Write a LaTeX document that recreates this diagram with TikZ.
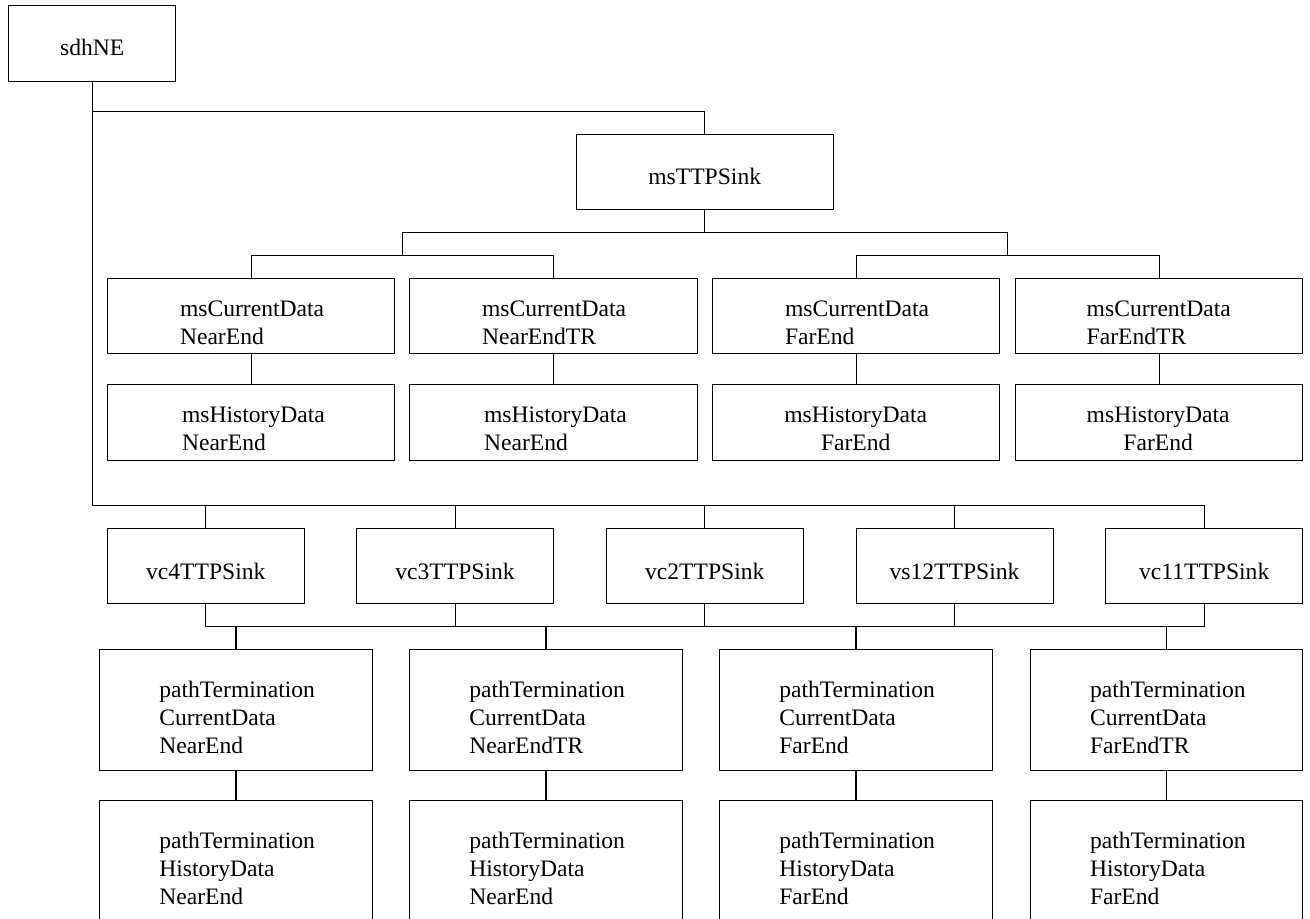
\documentclass[tikz,border=0pt]{standalone}
\usepackage{fontspec}
\setmainfont{Liberation Serif}
\newcommand\ltab[1]{\begin{tabular}[t]{@{}l@{}}#1\end{tabular}}
\newcommand\ctab[1]{\begin{tabular}[t]{@{}c@{}}#1\end{tabular}}
\begin{document}
\begin{tikzpicture}[x=0.5pt,y=-0.5pt,
  bx/.style={draw=black, line width=0.5pt, inner sep=0pt, outer sep=0pt, rectangle},
  tx/.style={inner sep=0pt, outer sep=0pt, font=\fontsize{11.8pt}{14pt}\selectfont},
  ln/.style={draw=black, line width=0.5pt},
  thk/.style={draw=black, line width=0.75pt},
  smallbox/.style={bx, minimum width=98.5pt, minimum height=37.55pt},
  curbox/.style={bx, minimum width=143.75pt, minimum height=37.6pt},
  hisbox/.style={bx, minimum width=143.75pt, minimum height=37.8pt},
  ptbox/.style={bx, minimum width=136.35pt, minimum height=60.5pt}]
\useasboundingbox (0,0) rectangle (1310,919);

% boxes
\node[bx, minimum width=83.5pt, minimum height=37.85pt] (sdh) at (92.2,43.85) {};
\node[bx, minimum width=128.65pt, minimum height=37.5pt] (ms) at (704.7,172.5) {};

\node[curbox] (cur1) at (251,316.1) {};
\node[curbox] (cur2) at (553.5,316.1) {};
\node[curbox] (cur3) at (856,316.1) {};
\node[curbox] (cur4) at (1159,316.1) {};

\node[hisbox] (his1) at (251,422.5) {};
\node[hisbox] (his2) at (553.5,422.5) {};
\node[hisbox] (his3) at (856,422.5) {};
\node[hisbox] (his4) at (1159,422.5) {};

\node[smallbox] (vc1) at (205.8,565.8) {};
\node[smallbox] (vc2) at (455,565.8) {};
\node[smallbox] (vc3) at (704.8,565.8) {};
\node[smallbox] (vc4) at (954.5,565.8) {};
\node[smallbox] (vc5) at (1204.2,565.8) {};

\node[ptbox] (ptc1) at (236.2,709.5) {};
\node[ptbox] (ptc2) at (545.8,709.5) {};
\node[ptbox] (ptc3) at (855.8,709.5) {};
\node[ptbox] (ptc4) at (1166.5,709.5) {};

\node[ptbox] (pth1) at (236.2,860.8) {};
\node[ptbox] (pth2) at (545.8,860.8) {};
\node[ptbox] (pth3) at (855.8,860.8) {};
\node[ptbox] (pth4) at (1166.5,860.8) {};

% texts
\node[tx, anchor=base] (tsdh) at (92.2,56) {sdhNE};
\node[tx, anchor=base] (tms) at (704.7,185) {msTTPSink};

\node[tx, anchor=base west] (tcur1) at (180,316.7) {\ltab{msCurrentData\\NearEnd}};
\node[tx, anchor=base west] (tcur2) at (482,316.7) {\ltab{msCurrentData\\NearEndTR}};
\node[tx, anchor=base west] (tcur3) at (785,316.7) {\ltab{msCurrentData\\FarEnd}};
\node[tx, anchor=base west] (tcur4) at (1086.7,316.7) {\ltab{msCurrentData\\FarEndTR}};

\node[tx, anchor=base west] (this1) at (182,422.7) {\ltab{msHistoryData\\NearEnd}};
\node[tx, anchor=base west] (this2) at (484,422.7) {\ltab{msHistoryData\\NearEnd}};
\node[tx, anchor=base west] (this3) at (784.3,422.7) {\ctab{msHistoryData\\FarEnd}};
\node[tx, anchor=base west] (this4) at (1086.7,422.7) {\ctab{msHistoryData\\FarEnd}};

\node[tx, anchor=base] (tvc1) at (205.8,579.3) {vc4TTPSink};
\node[tx, anchor=base] (tvc2) at (455,579.3) {vc3TTPSink};
\node[tx, anchor=base] (tvc3) at (704.8,579.3) {vc2TTPSink};
\node[tx, anchor=base] (tvc4) at (954.5,579.3) {vs12TTPSink};
\node[tx, anchor=base] (tvc5) at (1204.2,579.3) {vc11TTPSink};

\node[tx, anchor=base west] (tptc1) at (159.3,697.3) {\ltab{pathTermination\\CurrentData\\NearEnd}};
\node[tx, anchor=base west] (tptc2) at (469.3,697.3) {\ltab{pathTermination\\CurrentData\\NearEndTR}};
\node[tx, anchor=base west] (tptc3) at (779.3,697.3) {\ltab{pathTermination\\CurrentData\\FarEnd}};
\node[tx, anchor=base west] (tptc4) at (1090,697.3) {\ltab{pathTermination\\CurrentData\\FarEndTR}};

\node[tx, anchor=base west] (tpth1) at (159.3,848.3) {\ltab{pathTermination\\HistoryData\\NearEnd}};
\node[tx, anchor=base west] (tpth2) at (469.3,848.3) {\ltab{pathTermination\\HistoryData\\NearEnd}};
\node[tx, anchor=base west] (tpth3) at (779.3,848.3) {\ltab{pathTermination\\HistoryData\\FarEnd}};
\node[tx, anchor=base west] (tpth4) at (1090,848.3) {\ltab{pathTermination\\HistoryData\\FarEnd}};

% bus levels
\coordinate (yTop) at (0,112);
\coordinate (mL) at (402.3,232.3);
\coordinate (mR) at (1007.3,232.3);
\coordinate (ySub) at (0,255.3);
\coordinate (yV) at (0,505.7);
\coordinate (yB) at (0,626);

% sdhNE to msTTPSink
\draw[ln] (sdh.south) |- (ms.north |- yTop) -- (ms.north);
% msTTPSink fan-out
\draw[ln] (ms.south) -- (ms.south |- mL);
\draw[ln] (mL) -- (mR);
\draw[ln] (mL) -- (mL |- ySub);
\draw[ln] (mR) -- (mR |- ySub);
\draw[ln] (cur1.north) |- (cur2.north |- ySub) -- (cur2.north);
\draw[ln] (cur3.north) |- (cur4.north |- ySub) -- (cur4.north);
\foreach \i in {1,2,3,4} { \draw[ln] (cur\i.south) -- (his\i.north); }

% sdhNE to vc row
\draw[ln] (sdh.south) |- (vc5.north |- yV) -- (vc5.north);
\foreach \i in {1,2,3,4} { \draw[ln] (vc\i.north |- yV) -- (vc\i.north); }

% vc row to pathTermination
\draw[ln] (vc1.south) |- (vc5.south |- yB) -- (vc5.south);
\foreach \i in {2,3,4} { \draw[ln] (vc\i.south) -- (vc\i.south |- yB); }
\foreach \i in {1,2,3,4} {
  \draw[thk] (ptc\i.north |- yB) -- (ptc\i.north);
  \draw[thk] (ptc\i.south) -- (pth\i.north);
}
\end{tikzpicture}
\end{document}
